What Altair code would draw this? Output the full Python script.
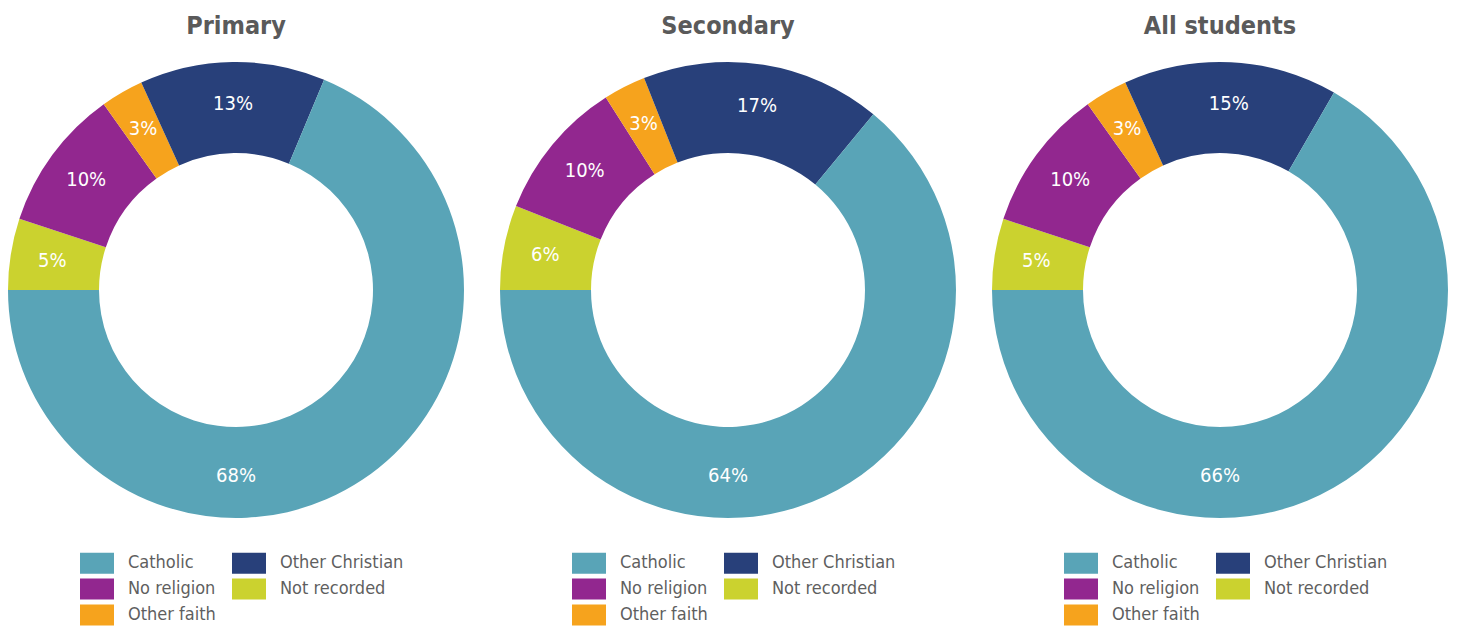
import math
import altair as alt
import pandas as pd

# ---- data ----
categories = ["Not recorded", "No religion", "Other faith", "Other Christian", "Catholic"]
primary = [5, 10, 3, 13, 68]
secondary = [6, 10, 3, 17, 64]
all_students = [5, 10, 3, 15, 66]
panels = ["Primary", "Secondary", "All students"]
panel_values = [primary, secondary, all_students]

legend_order = ["Catholic", "Other Christian", "No religion", "Not recorded", "Other faith"]
legend_colors = ["#59A4B7", "#28407A", "#92278F", "#CBD22F", "#F6A31D"]

FONT = "DejaVu Sans Condensed, Liberation Sans Narrow, sans-serif"
START = 1.5 * math.pi  # 9 o'clock


def make_df(values):
    total = sum(values)
    rows = []
    cum = 0
    biggest = max(values)
    for i, (c, v) in enumerate(zip(categories, values)):
        mid = 270 + 360 * (cum + v / 2) / total
        if v == biggest:
            mid = 180
        rows.append({"category": c, "value": v, "ord": i,
                     "label": f"{v}%", "mid": mid % 360})
        cum += v
    return pd.DataFrame(rows)


def panel(title, values):
    df = make_df(values)
    base = alt.Chart(df)
    arcs = base.mark_arc(outerRadius=228, innerRadius=137, stroke=None).encode(
        theta=alt.Theta("value:Q", stack=True,
                        scale=alt.Scale(range=[START, START + 2 * math.pi])),
        order=alt.Order("ord:Q"),
        color=alt.Color(
            "category:N",
            scale=alt.Scale(domain=legend_order, range=legend_colors),
            legend=alt.Legend(
                title=None, orient="none", legendX=79, legendY=491,
                columns=2, direction="horizontal",
                symbolType="M-1.7,-1.05H1.7V1.05H-1.7Z", symbolSize=400,
                symbolStrokeWidth=0, symbolOpacity=1,
                labelFont=FONT, labelFontSize=18, labelColor="#5f5f5f",
                labelOffset=21, rowPadding=4, columnPadding=16, padding=0,
                labelLimit=300,
            ),
        ),
    )
    labels = base.mark_text(radius=186, font=FONT, fontSize=20, color="white").encode(
        theta=alt.Theta("mid:Q", stack=None,
                        scale=alt.Scale(domain=[0, 360], range=[0, 2 * math.pi])),
        text="label:N",
    )
    return alt.layer(arcs, labels).resolve_scale(theta="independent").properties(
        width=456, height=456,
        title=alt.TitleParams(title, font=FONT, fontSize=25, fontWeight="bold",
                              color="#5a5a5a", anchor="middle", offset=23),
    )


chart = alt.hconcat(*[panel(t, v) for t, v in zip(panels, panel_values)],
                    spacing=36).resolve_legend(color="independent").resolve_scale(
    color="independent").properties(
    padding={"top": 6, "left": 0, "right": 0, "bottom": 0}).configure_view(stroke=None)

chart.save("out.html", embed_options={"renderer": "svg", "actions": False})
